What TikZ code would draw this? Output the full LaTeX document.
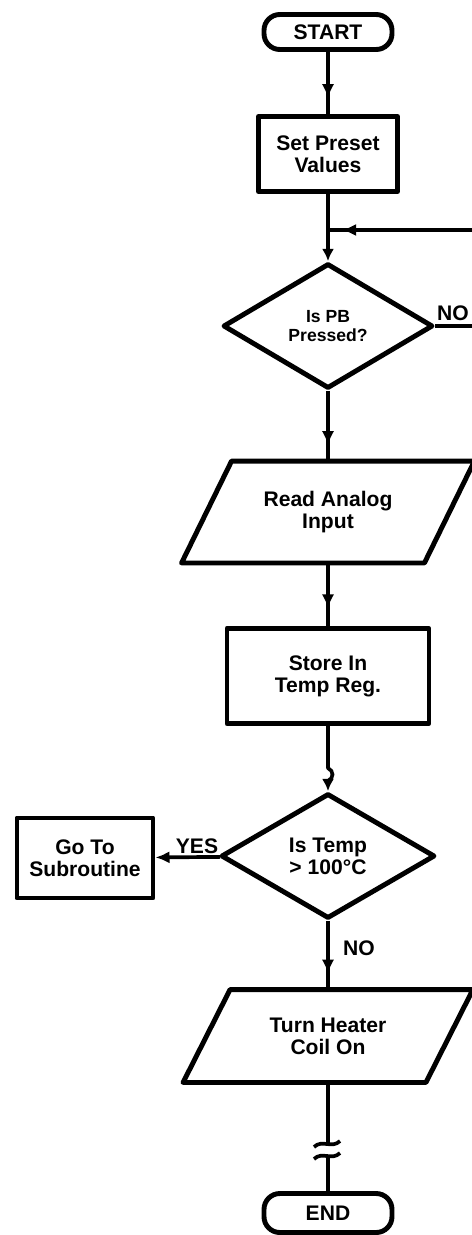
\documentclass[tikz,border=0pt]{standalone}
\usepackage{fontspec}
\setmainfont{Liberation Sans}
\usetikzlibrary{shapes.geometric,arrows.meta,decorations.markings}
\begin{document}
\begin{tikzpicture}[x=0.02cm, y=-0.02cm, line join=round,
  every node/.style={font=\bfseries\fontsize{12}{12.5}\selectfont, align=center, line width=2.8pt, inner sep=0pt},
  termbox/.style={draw, rounded corners=9pt, minimum width=2.56cm, minimum height=0.7cm},
  procbox/.style={draw, rectangle},
  iobox/.style={rectangle, minimum width=4.76cm},
  decbox/.style={draw, diamond, minimum width=4.2cm, minimum height=2.5cm},
  flow/.style={line width=2.1pt},
  slant/.style={line width=2.8pt},
  midarr/.style={postaction={decorate}, decoration={markings, mark=at position -#1 with {\arrow{Latex[length=8pt,width=7pt]}}}}]
\useasboundingbox (0,0) rectangle (471,1235);
\node[termbox] (start) at (328,32) {START};
\node[procbox, minimum width=2.78cm, minimum height=1.5cm] (preset) at (328,154) {Set Preset\\Values};
\node[decbox, font=\bfseries\fontsize{10}{11}\selectfont] (pb) at (328,326) {Is PB\\Pressed?};
\node[iobox, minimum height=1.94cm] (read) at (328,512) {Read Analog\\Input};
\draw[slant] ([xshift=0.5cm]read.north west) -- ([xshift=0.5cm]read.north east) -- ([xshift=-0.5cm]read.south east) -- ([xshift=-0.5cm]read.south west) -- cycle;
\node[procbox, minimum width=4.04cm, minimum height=1.9cm] (store) at (328,676) {Store In\\Temp Reg.};
\node[decbox, minimum width=4.28cm] (temp) at (328,856) {Is Temp\\> 100°C};
\node[procbox, minimum width=2.72cm, minimum height=1.6cm] (sub) at (85,858) {Go To\\Subroutine};
\node[iobox, minimum height=1.76cm] (heat) at (328,1036) {Turn Heater\\Coil On};
\draw[slant] ([xshift=0.47cm]heat.north west) -- ([xshift=0.47cm]heat.north east) -- ([xshift=-0.47cm]heat.south east) -- ([xshift=-0.47cm]heat.south west) -- cycle;
\node[termbox, minimum height=0.78cm] (end) at (328,1213) {END};
\node (pbno) at (453,313) {NO};
\node (yes) at (197,846) {YES};
\node (tempno) at (359,948) {NO};
\coordinate (join) at (328,230);
\coordinate (loopR) at (484,230);
\coordinate (sq1) at (328,768);
\coordinate (sq2) at (328,781);
\coordinate (brkA) at (328,1144);
\coordinate (brkB) at (328,1156);
\draw[flow, midarr=9pt] (start) -- (preset);
\draw[flow, -{Latex[length=7pt,width=7pt]}] (preset) -- (pb);
\draw[flow, midarr=8pt] (pb.east) -- (pb.east -| loopR) -- (loopR) -- (join);
\draw[flow, midarr=9pt] (pb) -- (read);
\draw[flow, midarr=10pt] (read) -- (store);
\draw[flow] (store) -- (sq1) .. controls +(6,3) and +(6,-3) .. (sq2);
\draw[flow, -{Latex[length=7pt,width=7pt]}] (sq2) -- (temp);
\draw[flow, -{Latex[length=8pt,width=7pt]}] (temp) -- (sub);
\draw[flow, midarr=9pt] (temp) -- (heat);
\draw[flow] (heat) -- (brkA);
\draw[flow] (brkB) -- (end);
\draw[flow] (brkA) ++(-14,3) .. controls +(8,-8) and +(-8,8) .. ++(26,-6);
\draw[flow] (brkB) ++(-14,3) .. controls +(8,-8) and +(-8,8) .. ++(26,-6);
\end{tikzpicture}
\end{document}
